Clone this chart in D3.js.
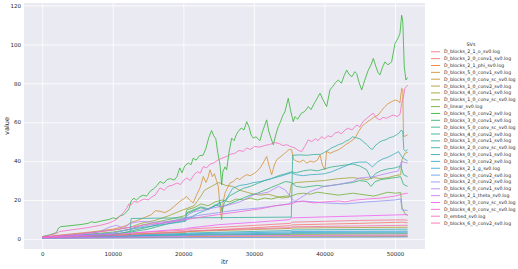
<!DOCTYPE html>
<html>
<head>
<meta charset="utf-8">
<script src="https://cdn.jsdelivr.net/npm/d3@7"></script>
<style>
    body { margin: 0; background: #ffffff; }
    text { font-family: "DejaVu Sans", sans-serif; fill: #262626; }
</style>
</head>
<body>
<div id="sv-chart"></div>
<script>
// hue order of the logs (legend order)
let svNames = [
    "D_blocks_2_1_o_sv0.log", "D_blocks_2_0_conv1_sv0.log", "D_blocks_2_1_phi_sv0.log",
    "D_blocks_5_0_conv1_sv0.log", "D_blocks_0_0_conv_sc_sv0.log", "D_blocks_1_0_conv2_sv0.log",
    "D_blocks_4_0_conv1_sv0.log", "D_blocks_1_0_conv_sc_sv0.log", "D_linear_sv0.log",
    "D_blocks_5_0_conv2_sv0.log", "D_blocks_3_0_conv1_sv0.log", "D_blocks_5_0_conv_sc_sv0.log",
    "D_blocks_4_0_conv2_sv0.log", "D_blocks_1_0_conv1_sv0.log", "D_blocks_2_0_conv_sc_sv0.log",
    "D_blocks_0_0_conv1_sv0.log", "D_blocks_3_0_conv2_sv0.log", "D_blocks_2_1_g_sv0.log",
    "D_blocks_0_0_conv2_sv0.log", "D_blocks_2_0_conv2_sv0.log", "D_blocks_6_0_conv1_sv0.log",
    "D_blocks_2_1_theta_sv0.log", "D_blocks_3_0_conv_sc_sv0.log", "D_blocks_4_0_conv_sc_sv0.log",
    "D_embed_sv0.log", "D_blocks_6_0_conv2_sv0.log"
];

let xTicks = [0, 10000, 20000, 30000, 40000, 50000];
let yTicks = [0, 20, 40, 60, 80, 100, 120];

// [itr, value] pairs
let b210 = [[0,0.8],[12400,2.5],[12600,3],[20400,4.5],[20600,5],[35200,8],[35400,8.6],[45000,9.5],[51000,9.8],[51790,9.6]];
let b200c1 = [[0,0.7],[12400,2],[12600,2.3],[20400,3.4],[20600,3.8],[35200,6.8],[35400,7.2],[45000,8],[51000,8.6],[51790,8.3]];
let b21phi = [[0,0.4],[20400,1],[20600,1.2],[35300,1.5],[51790,1.6]];
let b500c1 = [[0,0.8],[2000,1.8],[4000,2.5],[6000,3.2],[8000,4],[10000,5],[11000,5.8],[12000,7],[12600,8.5],[13500,9.5],[14500,11],[15500,12.5],[16000,14.5],[16700,14.2],[17400,13.5],[18100,14.9],[18800,17],[19530,19.3],[20000,20.5],[20470,21.8],[20900,20],[21410,18.5],[21800,22],[22360,26.2],[22830,32.1],[23200,29],[23500,31.5],[23780,35.5],[24100,32],[24400,33.5],[24700,30],[24960,27],[25190,16.7],[25430,9.9],[25600,18],[25900,23.5],[26140,25.3],[26600,28.7],[27100,29.5],[27560,31.3],[28000,30.5],[28500,32],[28980,33],[29500,32.5],[30150,33.9],[30500,35],[30860,36.4],[31300,39],[31810,42.4],[32200,37],[32520,33],[32900,38],[33230,40.7],[33700,42],[34200,43.5],[34640,44.9],[35000,46],[35350,45.8],[35600,41],[36000,40],[36500,39.5],[37000,40.5],[37500,39],[38000,40],[38500,39.5],[39000,40.5],[39370,43.2],[39700,38],[40070,35.5],[40300,45],[40800,44],[41400,45],[41960,45.8],[42500,47],[43000,48.5],[43500,49.5],[44330,51.8],[44800,55],[45280,57.7],[45800,59.5],[46500,61.2],[47000,62.5],[47620,63.7],[48100,66],[48570,68],[49000,69.5],[49500,70.5],[50000,71.4],[50400,71],[50700,70],[50940,77.4],[51100,77],[51200,52.6],[51500,53],[51790,53.5]];
let b000sc = [[0,0.3],[20000,0.8],[51790,1.2]];
let b102 = [[0,0.6],[12400,2.3],[12600,2.5],[20400,3.6],[20600,3.8],[35200,5.4],[35400,5.6],[51790,6]];
let b401 = [[0,0.8],[5000,2.5],[10000,4.5],[12500,6],[14000,8],[16000,9.5],[18000,12],[20000,15],[21500,17],[22500,22],[23000,25],[24000,27],[25000,29],[26000,27.5],[27000,27],[28000,25],[29000,24],[30000,23],[31000,22.5],[32000,23],[33000,22],[34000,21],[35000,21.5],[35300,28],[36000,29],[38000,29.5],[40000,30],[42000,31],[44000,31.5],[45000,31],[46000,30.5],[47000,31.5],[48000,31],[49000,31.5],[50000,32.5],[50800,33],[51000,41],[51400,44],[51790,44.5]];
let b10sc = [[0,0.5],[12500,1.5],[20500,2],[51790,2.6]];
let dLinear = [[0,0.8],[5000,2],[10000,3.5],[12500,5],[14000,7],[16000,8.5],[18000,10],[20300,12],[20500,15],[21500,16],[22500,18],[23500,17],[24500,19],[25500,20],[26500,19],[27500,20.5],[28500,20],[29500,21],[30500,20],[31500,21],[32500,20.5],[33500,21.5],[34500,22],[35300,22],[36000,23],[37000,23.5],[38000,23],[39000,24],[40000,23.5],[41000,23],[42000,22.5],[43000,23],[44000,23.5],[45000,23],[46000,22.5],[47000,22],[48000,23],[49000,24],[50000,23.5],[50800,23.8],[51000,16],[51400,13],[51790,12]];
let b502 = [[0,1.2],[1000,2],[2000,3.2],[2300,5.5],[2600,6.3],[3500,6.6],[4500,7],[5500,7.4],[6500,8],[7000,8.8],[7500,8.4],[8500,9.3],[9500,10],[10000,10.8],[10500,10.4],[11000,11.8],[11500,12.4],[12000,14],[12300,15.5],[12600,19.5],[13000,21],[13300,19.8],[13800,21.5],[14300,22.5],[14800,22],[15300,24.5],[15800,25.8],[16300,27.5],[16700,29.5],[17200,28.5],[17700,30.5],[18200,31],[18700,30.2],[19100,32],[19500,36.5],[19800,34],[20200,37.5],[20700,39],[21100,38.2],[21400,41.5],[21800,40.5],[22300,42.8],[22800,43],[23200,46.5],[23600,52],[24000,55.7],[24300,53],[24600,51.5],[24900,44],[25200,38],[25430,27.8],[25600,34.5],[25900,37],[26140,35.5],[26500,45],[26850,51.8],[27200,50.5],[27500,53.5],[27790,55.2],[28200,57],[28600,56],[28980,60.3],[29300,57.7],[29600,53.5],[29920,51.8],[30300,52.5],[30860,50.5],[31200,55],[31500,58],[31810,61.2],[32100,55.5],[32400,52],[32750,48.4],[33100,53.5],[33460,57.7],[33800,60.5],[34100,63.5],[34400,65.4],[34870,72.3],[35200,66],[35580,60.3],[35820,62.9],[36200,61.5],[36700,64.5],[37200,65.5],[37710,68],[38100,66.5],[38600,70],[39000,72.5],[39370,74.9],[39800,71.5],[40310,68],[40780,76.6],[41200,78.5],[41600,80.5],[41960,81.7],[42400,80],[42800,84],[43150,86.8],[43500,84.5],[43900,83.4],[44300,86],[44570,85],[44900,80.5],[45280,76.6],[45700,81.5],[46210,86.8],[46600,89.5],[46920,92.8],[47300,88.5],[47600,85.5],[47860,84.3],[48200,88],[48570,91],[49000,89.5],[49520,91],[50000,100.5],[50400,103],[50700,105.6],[50940,115],[51100,112],[51310,88.5],[51550,81.7],[51790,83]];
let b301 = [[0,0.6],[5000,1.2],[10000,2],[12500,4],[15000,6],[18000,9],[20300,10.5],[20500,13],[21500,14.5],[22500,16],[23500,15],[24500,17.5],[25500,16.5],[26500,18],[27500,19.5],[28500,21],[29500,22.5],[30500,23.5],[31500,25],[32500,26.5],[33500,28],[34500,29.5],[35300,29],[36000,27],[37000,26.5],[38000,27],[39000,27.5],[40000,27],[41000,27.5],[42000,28],[43000,28.5],[44000,29],[45000,30],[46000,29.5],[46600,27],[47200,29.5],[48000,30.5],[49000,31],[50000,31.5],[50800,32],[51200,28],[51790,27]];
let b50sc = [[0,0.7],[5000,1.5],[10000,2.5],[12500,3.5],[15000,5],[18000,8],[20300,9.5],[20500,13.5],[21500,15],[22500,16.5],[23500,15.5],[24500,17],[25200,19],[25500,14],[25800,18.5],[26500,22],[27500,24],[28500,26],[29500,27],[30500,28.5],[31500,30],[32500,31],[33500,32.5],[34500,33.5],[35300,34.5],[36000,34],[37000,35],[38000,35.5],[39000,35],[40000,36],[41000,37],[42000,37.5],[43000,38],[44000,38.5],[45000,37.5],[46000,35.5],[46600,31],[47200,33.5],[48000,35],[49000,36],[50000,36.5],[50800,37.5],[51200,33],[51790,32]];
let b402 = [[0,0.8],[6000,1],[12400,1.2],[12600,10.5],[20000,10.8],[28000,11],[35300,11.2],[35500,43],[36500,43.2],[37500,43],[38500,43.4],[39500,43.5],[40000,44.5],[40500,45.5],[41000,46.8],[41500,47.5],[42000,48.5],[42500,49],[43000,50.2],[43500,51],[44000,52.5],[44500,52],[45000,51.5],[45500,50],[46000,48.5],[46500,46.5],[46800,46],[47200,48],[47700,49.5],[48200,50.5],[48700,51],[49200,52],[49700,52.5],[50200,53.5],[50600,54.5],[50900,56],[51100,55],[51250,46],[51500,45],[51790,46]];
let b101 = [[0,0.6],[12400,1.8],[12600,2],[20400,2.8],[20600,3],[35200,4.3],[35400,4.6],[51790,5]];
let b20sc = [[0,0.5],[12400,1.6],[12600,1.8],[35200,3],[35400,3.3],[51790,3.5]];
let b001 = [[0,0.9],[10000,3],[12500,5],[20300,9],[20500,10],[22000,13],[24000,16],[26000,20],[27000,26],[28000,27.5],[29000,28],[30000,29],[31000,29.5],[32000,30.5],[33000,31.5],[34000,32.5],[35300,34],[36000,33],[37000,32.5],[38000,33],[39000,33.2],[40000,33.5],[41000,34.5],[42000,36],[43000,37.5],[44000,39],[45000,39.5],[46000,39.5],[46800,37],[47500,39.5],[48200,41],[49000,42],[49800,43.5],[50500,44.9],[51000,42],[51790,40]];
let b302 = [[0,0.4],[12400,1.1],[12600,1.2],[35200,2.6],[35400,2.8],[51790,3]];
let b21g = [[0,0.5],[12400,1.4],[12600,1.5],[20400,2.4],[20600,2.6],[35200,3.6],[35400,3.8],[51790,4]];
let b002 = [[0,0.3],[20000,0.6],[51790,1]];
let b202 = [[0,0.5],[5000,1.5],[10000,3],[12500,5],[15000,7],[18000,8.5],[20300,10],[20500,11],[22000,12],[25000,13.5],[28000,15],[31000,16],[33000,17],[35000,18],[35300,19],[37000,19.5],[40000,18.5],[43000,18],[46000,19],[48000,19.5],[50000,20],[50800,20.5],[51000,15],[51790,14.5]];
let b601 = [[0,0.6],[5000,2],[8000,3.5],[9500,6],[10500,7],[11500,5.5],[12500,8],[14000,9],[16000,8.5],[18000,9],[20300,10.5],[20500,12],[21500,14],[23000,15],[25000,16.5],[26000,17],[28000,19],[30000,22.7],[32000,24],[33500,27],[34500,25],[35300,21],[35800,19.3],[37000,22],[38000,24.4],[40000,27],[42000,28],[44000,29.5],[45000,31.3],[47000,32],[49000,33.8],[50500,35],[50900,39.8],[51790,39]];
let b21theta = [[0,0.4],[20400,1.3],[20600,1.5],[51790,2]];
let b30sc = [[0,0.7],[12400,2.8],[12600,3],[20400,5.2],[20600,5.5],[25000,7.3],[30000,8.5],[35100,9.9],[35300,10.8],[40000,11.3],[45000,11.8],[50000,12.3],[51790,12.5]];
let b40sc = [[0,0.9],[5000,2.5],[10000,4.5],[12500,6],[15000,7.5],[18000,8.5],[20500,10],[23000,11.5],[25000,12.5],[27000,13.5],[29000,14.5],[31000,15.5],[33000,17],[35300,18],[36000,19],[37000,19.3],[38500,18.5],[40000,19],[42000,19.5],[43000,19],[44000,19.8],[46000,20.5],[48000,21],[50000,22],[51000,23],[51790,23.5]];
let dEmbed = [[0,1],[1000,1.8],[2000,2.8],[2500,3.8],[3500,4.3],[4500,4.8],[5500,5.3],[6500,5.8],[7500,6.5],[8500,7.2],[9500,8.2],[10000,9],[10500,10],[11000,11.5],[11500,13.5],[12000,16],[12300,18],[12600,17.5],[13000,19.3],[13500,18.8],[14000,19.8],[14500,20.5],[15000,20],[15500,21.5],[16000,22.5],[16700,26.2],[17300,25],[17800,27],[18400,27.5],[19060,28.7],[19600,28],[20000,30],[20470,31.3],[21000,30],[21500,33],[22000,34.5],[22400,33.8],[22830,37.2],[23300,36.5],[23800,38.5],[24300,39],[24960,40.7],[25500,41.5],[26140,42.4],[26700,43.5],[27300,44],[27900,45.5],[28500,45],[28980,46.7],[29500,46],[30100,47.5],[30860,47.2],[31500,48],[32200,48.5],[32990,49.5],[33600,49],[34100,48],[34640,48.4],[35200,47.5],[35820,46.7],[36300,45.5],[36770,44.9],[37200,47.5],[37710,50.9],[38200,50],[38700,51.5],[39100,50.5],[39600,52.6],[40000,51.5],[40500,53],[41000,52.5],[41490,54.4],[42000,55],[42400,54],[42900,56],[43380,56.9],[43900,56],[44570,58.6],[45000,57.5],[45500,60.5],[45990,62],[46500,63.5],[46920,64.6],[47400,62],[47860,61.2],[48300,62.5],[48800,62],[49300,63],[49750,63.7],[50300,62.9],[50700,64],[50940,69.7],[51200,73],[51410,77.4],[51790,79.1]];
let b602 = [[0,0.6],[12400,1.9],[12600,2.1],[20400,3.8],[20600,4.1],[35200,5.8],[35400,6.2],[51790,7]];

let svSeries = [b210, b200c1, b21phi, b500c1, b000sc, b102, b401, b10sc, dLinear,
    b502, b301, b50sc, b402, b101, b20sc, b001, b302, b21g, b002, b202, b601,
    b21theta, b30sc, b40sc, dEmbed, b602];

/**
 * HUSL colour, same conversion as seaborn's husl palette
 */
let M = [[3.2406, -1.5372, -0.4986], [-0.9689, 1.8758, 0.0415], [0.0557, -0.2040, 1.0570]];

function maxChroma(L, H) {
    let hrad = H / 360 * 2 * Math.PI;
    let sinH = Math.sin(hrad), cosH = Math.cos(hrad);
    let sub1 = Math.pow(L + 16, 3) / 1560896;
    let sub2 = sub1 > 0.008856 ? sub1 : L / 903.3;
    let result = Infinity;
    M.forEach(function(row) {
        let top = (0.99915 * row[0] + 1.05122 * row[1] + 1.14460 * row[2]) * sub2;
        let rbottom = 0.86330 * row[2] - 0.17266 * row[1];
        let lbottom = 0.12949 * row[2] - 0.38848 * row[0];
        let bottom = (rbottom * sinH + lbottom * cosH) * sub2;
        [0, 1].forEach(function(t) {
            let C = L * (top - 1.05122 * t) / (bottom + 0.17266 * sinH * t);
            if (C > 0 && C < result) result = C;
        });
    });
    return result;
}

function huslColor(H, S, L) {
    let C = maxChroma(L, H) / 100 * S;
    let hrad = H / 360 * 2 * Math.PI;
    let U = Math.cos(hrad) * C, V = Math.sin(hrad) * C;
    let t = (L + 16) / 116;
    let Y = Math.pow(t, 3) > 0.008856 ? Math.pow(t, 3) : (116 * t - 16) / 903.3;
    let varU = U / (13 * L) + 0.19784;
    let varV = V / (13 * L) + 0.46834;
    let X = -(9 * Y * varU) / ((varU - 4) * varV - varU * varV);
    let Z = (9 * Y - 15 * varV * Y - varV * X) / (3 * varV);
    let rgb = M.map(function(row) {
        let c = row[0] * X + row[1] * Y + row[2] * Z;
        c = c <= 0.0031308 ? 12.92 * c : 1.055 * Math.pow(c, 1 / 2.4) - 0.055;
        return Math.round(255 * Math.max(0, Math.min(1, c)));
    });
    return d3.rgb(rgb[0], rgb[1], rgb[2]).formatHex();
}

function SVChart() {
    let self = this;
    self.init();
}

SVChart.prototype.init = function() {
    let self = this;
    self.width = 518;
    self.height = 269;
    self.plot = {left: 24, right: 425, top: 3, bottom: 249};

    let colors = svNames.map(function(d, i) {
        return huslColor(((i / svNames.length) + 0.01) % 1 * 359, 89.1, 65);
    });

    let svg = d3.select("#sv-chart").append("svg")
        .attr("width", self.width)
        .attr("height", self.height);

    let x = d3.scaleLinear().domain([-2580, 54250]).range([self.plot.left, self.plot.right]);
    let y = d3.scaleLinear().domain([-5.2, 121.3]).range([self.plot.bottom, self.plot.top]);

    //Plot background
    svg.append("rect")
        .attr("x", self.plot.left)
        .attr("y", self.plot.top)
        .attr("width", self.plot.right - self.plot.left)
        .attr("height", self.plot.bottom - self.plot.top)
        .attr("fill", "#eaeaf2");

    //Grid lines and tick labels
    let xAxis = svg.append("g")
        .attr("transform", "translate(0," + self.plot.bottom + ")")
        .call(d3.axisBottom(x).tickValues(xTicks).tickFormat(d3.format("d"))
            .tickSizeInner(-(self.plot.bottom - self.plot.top)).tickSizeOuter(0).tickPadding(3));
    let yAxis = svg.append("g")
        .attr("transform", "translate(" + self.plot.left + ",0)")
        .call(d3.axisLeft(y).tickValues(yTicks)
            .tickSizeInner(-(self.plot.right - self.plot.left)).tickSizeOuter(0).tickPadding(3));

    [xAxis, yAxis].forEach(function(ax) {
        ax.select(".domain").remove();
        ax.selectAll(".tick line").attr("stroke", "#ffffff").attr("stroke-width", 0.8);
        ax.selectAll(".tick text").style("font-size", "5.5px").attr("fill", "#262626");
    });

    //Lines
    let line = d3.line()
        .x(function(d) { return x(d[0]); })
        .y(function(d) { return y(d[1]); });

    svg.append("g")
        .selectAll("path")
        .data(svSeries)
        .enter()
        .append("path")
        .attr("d", line)
        .attr("fill", "none")
        .attr("stroke", function(d, i) { return colors[i]; })
        .attr("stroke-width", 0.8)
        .attr("stroke-linejoin", "round");

    //Axis labels
    svg.append("text")
        .attr("x", (self.plot.left + self.plot.right) / 2)
        .attr("y", 263.5)
        .attr("text-anchor", "middle")
        .attr("fill", "#262626")
        .style("font-size", "6.5px")
        .text("itr");

    svg.append("text")
        .attr("transform", "translate(9," + (self.plot.top + self.plot.bottom) / 2 + ") rotate(-90)")
        .attr("text-anchor", "middle")
        .attr("fill", "#262626")
        .style("font-size", "6.5px")
        .text("value");

    //Legend
    let legend = svg.append("g");
    legend.append("text")
        .attr("x", 471)
        .attr("y", 44.5)
        .attr("text-anchor", "middle")
        .attr("dominant-baseline", "central")
        .attr("fill", "#262626")
        .style("font-size", "4.8px")
        .text("SVs");

    let item = legend.selectAll(".item")
        .data(svNames)
        .enter()
        .append("g")
        .attr("class", "item")
        .attr("transform", function(d, i) { return "translate(0," + (51.8 + i * 6.85) + ")"; });

    item.append("line")
        .attr("x1", 431).attr("x2", 440)
        .attr("stroke", function(d, i) { return colors[i]; })
        .attr("stroke-width", 0.9);

    item.append("text")
        .attr("x", 444)
        .attr("dominant-baseline", "central")
        .attr("fill", "#262626")
        .style("font-size", "4.7px")
        .text(function(d) { return d; });
};

let chart = new SVChart();
</script>
</body>
</html>
